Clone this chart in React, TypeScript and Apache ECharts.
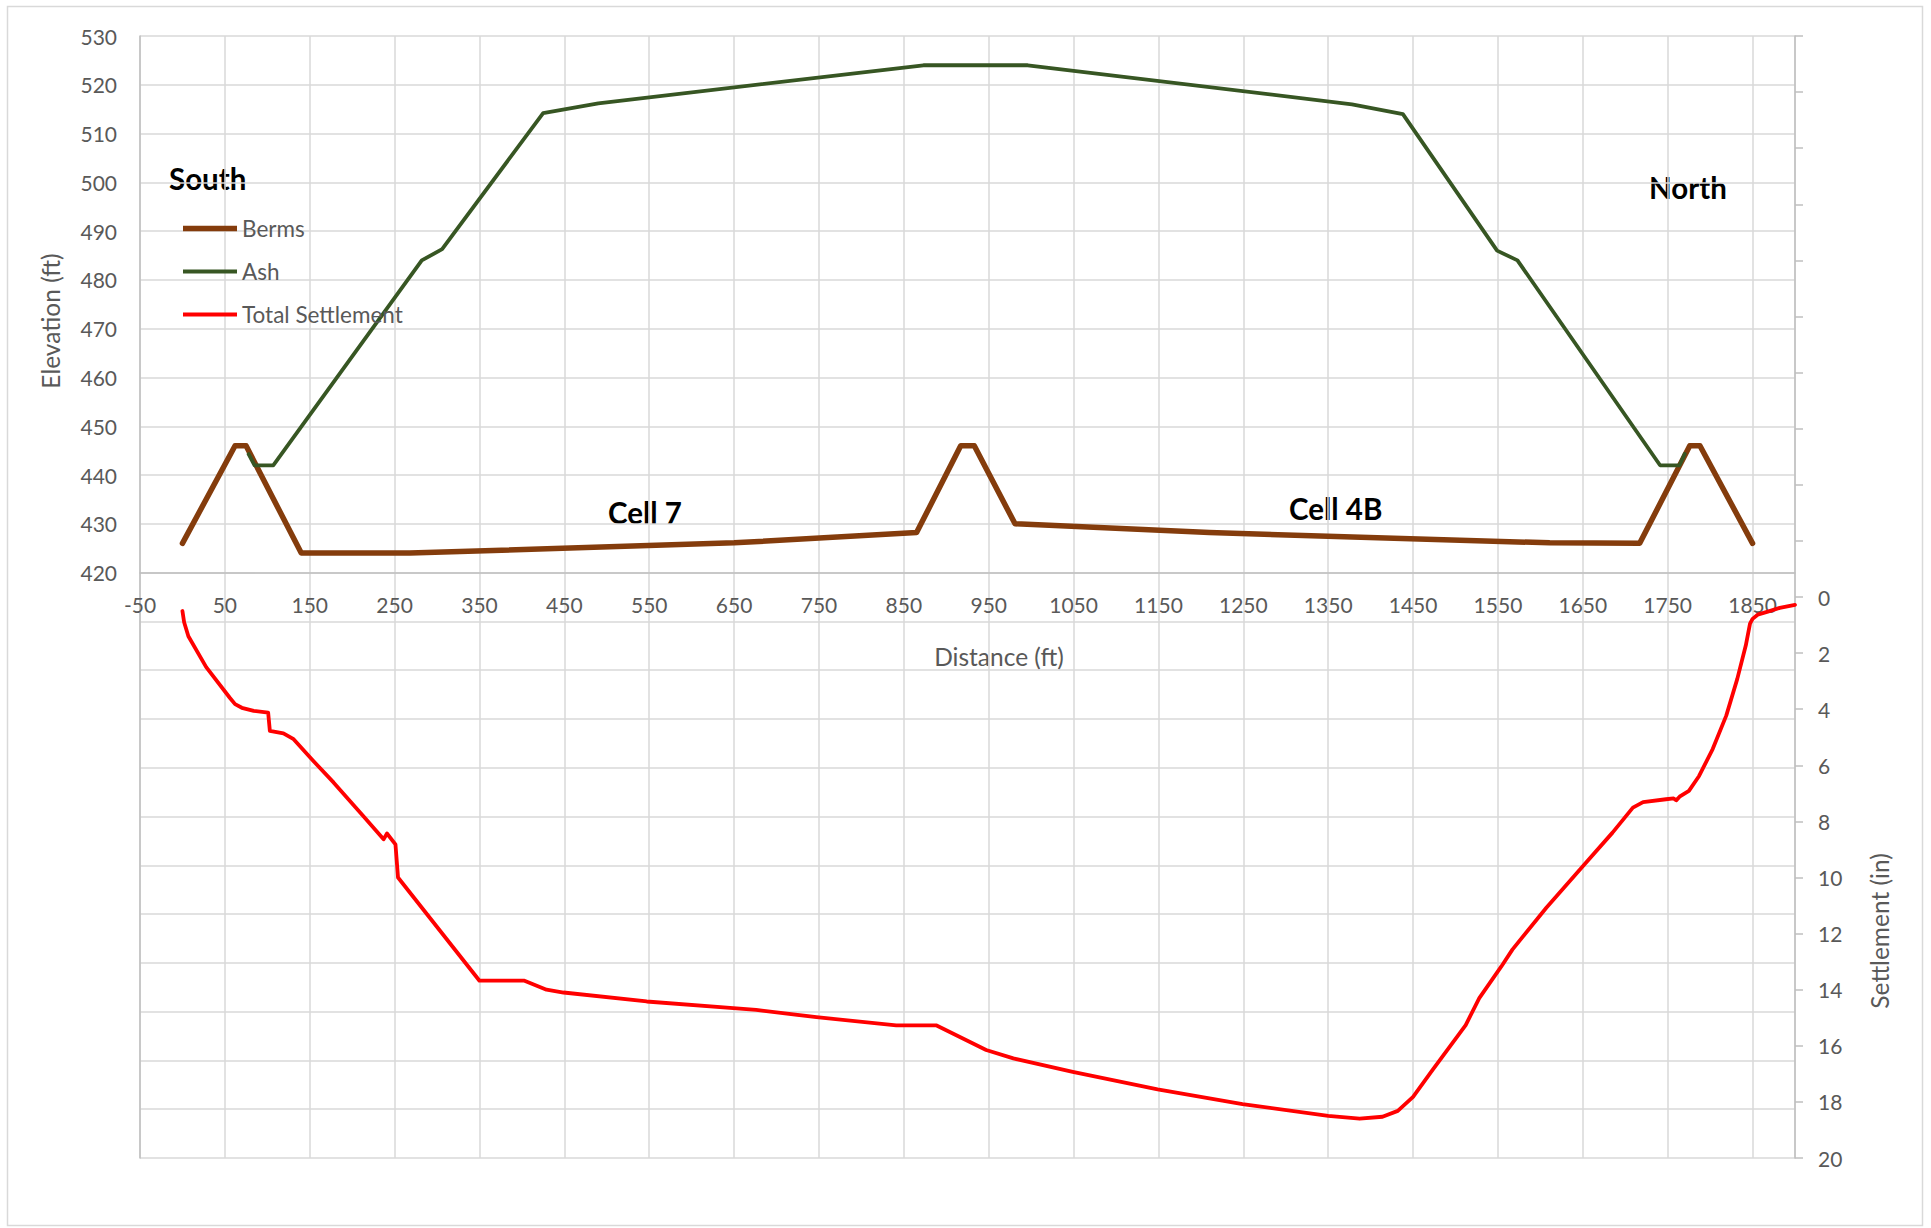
import { useEffect, useRef } from "react";
import * as echarts from "echarts";

// Berm crest/toe profile (distance ft, elevation ft)
const bermDistance = [0, 62, 75, 140, 268, 650, 865, 917, 933, 981, 1210, 1611, 1717, 1776, 1788, 1850];
const bermElevation = [426, 446, 446, 424, 424, 426.1, 428.2, 446, 446, 430, 428.2, 426.1, 426, 446, 446, 426];

// Ash fill surface (distance ft, elevation ft)
const ashDistance = [78, 85, 107, 282, 306, 425, 490, 873, 996, 1378, 1438, 1549, 1573, 1741, 1764, 1770];
const ashElevation = [444.3, 442, 442, 484, 486.3, 514.2, 516.2, 524, 524, 516, 514, 486, 484, 442, 442, 444.3];

// Total settlement along the section (distance ft, settlement in)
const settleDistance = [
  0, 2, 7, 28, 56, 62, 70, 84, 101, 103, 119, 131, 154, 178, 213, 237, 241, 251, 254, 350, 403, 429, 449,
  547, 649, 676, 747, 841, 888, 947, 979, 1049, 1149, 1249, 1350, 1387, 1414, 1432, 1450, 1473, 1512, 1528,
  1554, 1567, 1607, 1650, 1685, 1709, 1721, 1748, 1757, 1760, 1764, 1775, 1787, 1803, 1819, 1832, 1842, 1847,
  1850, 1856, 1868, 1882, 1900,
];
const settleInches = [
  0.5, 0.9, 1.4, 2.5, 3.6, 3.82, 3.95, 4.06, 4.12, 4.77, 4.86, 5.07, 5.84, 6.61, 7.81, 8.64, 8.43, 8.82, 10.0,
  13.68, 13.68, 14.0, 14.1, 14.42, 14.66, 14.72, 14.98, 15.27, 15.27, 16.15, 16.45, 16.93, 17.55, 18.08, 18.5,
  18.6, 18.53, 18.32, 17.82, 16.86, 15.26, 14.3, 13.17, 12.57, 11.08, 9.6, 8.4, 7.51, 7.31, 7.21, 7.18, 7.25,
  7.12, 6.91, 6.38, 5.42, 4.23, 2.92, 1.73, 0.95, 0.78, 0.63, 0.52, 0.39, 0.28,
];

// Axis ranges
const distanceMin = -50;
const distanceMax = 1900;
const distanceStep = 100;
const elevationMin = 300;
const elevationMax = 530;
const elevationStep = 10;
const elevationLabelFloor = 420;
const settleMin = -20;
const settleMax = 20;
const settleStep = 2;

const zip = (xs: number[], ys: number[]) => xs.map((x, i) => [x, ys[i]]);

const FONT = "Lato, 'Open Sans', sans-serif";
const AXIS_TEXT = "#595959";
const GRID_LINE = "#d9d9d9";
const AXIS_LINE = "#bfbfbf";

const BERM_COLOR = "#843C0C";
const ASH_COLOR = "#375623";
const SETTLE_COLOR = "#FF0000";

export default function App() {
  const ref = useRef<HTMLDivElement>(null);

  useEffect(() => {
    if (!ref.current) return;
    const chart = echarts.init(ref.current, undefined, { renderer: "svg" });

    const W = 1931;
    const H = 1228;
    const gridLeft = 140;
    const gridTop = 36;
    const gridRight = 1795;
    const gridBottom = 1158;
    const gridH = gridBottom - gridTop;
    // distance axis sits on the 420 ft elevation line
    const baseY = gridTop + ((elevationMax - elevationLabelFloor) / (elevationMax - elevationMin)) * gridH;
    const xOffset = baseY - gridBottom;

    const noteStyle = { fontFamily: FONT, fontWeight: "bold", fontSize: 29.5, fill: "#000", verticalAlign: "middle" };
    const titleStyle = { fontFamily: FONT, fontSize: 24.5, fill: AXIS_TEXT, align: "center", verticalAlign: "middle" };

    chart.setOption({
      animation: false,
      backgroundColor: "#ffffff",
      grid: {
        left: gridLeft,
        top: gridTop,
        right: W - gridRight,
        bottom: H - gridBottom,
        containLabel: false,
        outerBoundsMode: "none",
      },
      legend: {
        orient: "vertical",
        left: 178,
        top: 212,
        itemWidth: 54,
        itemHeight: 14,
        itemGap: 20,
        symbolKeepAspect: true,
        itemStyle: { borderWidth: 0 },
        lineStyle: { width: 0 },
        textStyle: { fontFamily: FONT, fontSize: 22.5, color: AXIS_TEXT, lineHeight: 22 },
        data: [
          { name: "Berms", icon: "path://M0 0H54V5.5H0Z", itemStyle: { color: BERM_COLOR } },
          { name: "Ash", icon: "path://M0 0H54V3.8H0Z", itemStyle: { color: ASH_COLOR } },
          { name: "Total Settlement", icon: "path://M0 0H54V3.8H0Z", itemStyle: { color: SETTLE_COLOR } },
        ],
      },
      xAxis: {
        type: "value",
        min: distanceMin,
        max: distanceMax,
        interval: distanceStep,
        offset: xOffset,
        axisLine: { show: true, onZero: false, lineStyle: { color: AXIS_LINE, width: 1.5 } },
        axisTick: { show: false },
        axisLabel: {
          margin: 21,
          fontFamily: FONT,
          fontSize: 21,
          color: AXIS_TEXT,
          formatter: (v: number) => (v === distanceMax ? "" : String(v)),
        },
        splitLine: { show: true, lineStyle: { color: GRID_LINE, width: 1.5 } },
      },
      yAxis: [
        {
          type: "value",
          position: "left",
          min: elevationMin,
          max: elevationMax,
          interval: elevationStep,
          axisLine: { show: true, onZero: false, lineStyle: { color: AXIS_LINE, width: 1.5 } },
          axisTick: { show: false },
          axisLabel: {
            margin: 23,
            fontFamily: FONT,
            fontSize: 21,
            color: AXIS_TEXT,
            formatter: (v: number) => (v >= elevationLabelFloor ? String(v) : ""),
          },
          splitLine: { show: true, lineStyle: { color: GRID_LINE, width: 1.5 } },
        },
        {
          type: "value",
          position: "right",
          inverse: true,
          min: settleMin,
          max: settleMax,
          interval: settleStep,
          axisLine: { show: true, onZero: false, lineStyle: { color: AXIS_LINE, width: 1.5 } },
          axisTick: { show: true, inside: false, length: 8, lineStyle: { color: AXIS_LINE, width: 1.5 } },
          axisLabel: {
            margin: 23,
            fontFamily: FONT,
            fontSize: 21,
            color: AXIS_TEXT,
            formatter: (v: number) => (v >= 0 ? String(v) : ""),
          },
          splitLine: { show: false },
        },
      ],
      series: [
        {
          name: "Berms",
          type: "line",
          xAxisIndex: 0,
          yAxisIndex: 0,
          data: zip(bermDistance, bermElevation),
          symbol: "none",
          itemStyle: { color: BERM_COLOR },
          lineStyle: { color: BERM_COLOR, width: 5.5, cap: "round", join: "round" },
          z: 2,
        },
        {
          name: "Ash",
          type: "line",
          xAxisIndex: 0,
          yAxisIndex: 0,
          data: zip(ashDistance, ashElevation),
          symbol: "none",
          itemStyle: { color: ASH_COLOR },
          lineStyle: { color: ASH_COLOR, width: 3.8, cap: "round", join: "round" },
          z: 3,
        },
        {
          name: "Total Settlement",
          type: "line",
          xAxisIndex: 0,
          yAxisIndex: 1,
          data: zip(settleDistance, settleInches),
          symbol: "none",
          itemStyle: { color: SETTLE_COLOR },
          lineStyle: { color: SETTLE_COLOR, width: 3.8, cap: "round", join: "round" },
          z: 4,
        },
      ],
      graphic: [
        {
          type: "rect",
          shape: { x: 7.5, y: 6.5, width: 1915, height: 1219 },
          style: { fill: "none", stroke: GRID_LINE, lineWidth: 1.5 },
          silent: true,
          z: -10,
        },
        { type: "text", x: 169, y: 178, style: { ...noteStyle, text: "South" } },
        { type: "text", x: 1649, y: 187, style: { ...noteStyle, text: "North" } },
        { type: "text", x: 608, y: 512, style: { ...noteStyle, text: "Cell 7" } },
        { type: "text", x: 1289, y: 508, style: { ...noteStyle, text: "Cell 4B" } },
        { type: "text", x: 999, y: 656, style: { ...titleStyle, text: "Distance (ft)" } },
        { type: "text", x: 50, y: 321, rotation: Math.PI / 2, style: { ...titleStyle, text: "Elevation (ft)" } },
        { type: "text", x: 1879, y: 931, rotation: Math.PI / 2, style: { ...titleStyle, text: "Settlement (in)" } },
      ],
    });

    return () => chart.dispose();
  }, []);

  return (
    <div
      ref={ref}
      style={{ position: "fixed", left: 0, top: 0, width: 1931, height: 1228, background: "#fff" }}
    />
  );
}
